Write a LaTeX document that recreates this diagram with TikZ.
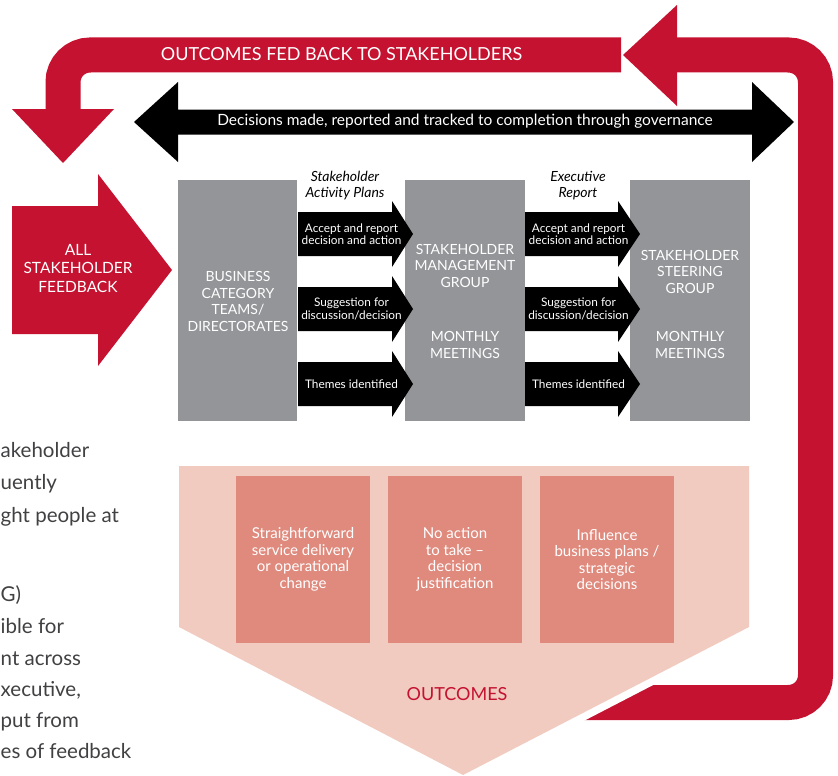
\documentclass[tikz,border=0pt]{standalone}
\usepackage{fontspec}
\setmainfont{Lato}
\definecolor{fbred}{RGB}{196,18,48}
\definecolor{boxgrey}{RGB}{147,149,152}
\definecolor{outpink}{RGB}{241,203,192}
\definecolor{cellpink}{RGB}{223,138,125}
\definecolor{bodygrey}{RGB}{65,64,66}
% black arrow between two grey boxes: name, shaft start, head base, tip, centre y, label
\newcommand{\flowarrow}[6]{%
  \fill[black] (#2,#5-22) -- (#3,#5-22) -- (#3,#5-33) -- (#4,#5)
    -- (#3,#5+33) -- (#3,#5+22) -- (#2,#5+22) -- cycle;
  \node[arrowtext] (#1) at ({(#2+#4)/2-4},#5) {#6};}
\begin{document}
\begin{tikzpicture}[x=1pt,y=-1pt,
  loopband/.style={draw=fbred, line width=35pt, rounded corners=27pt},
  bandtext/.style={text=white, font=\fontsize{18}{21}\selectfont},
  feedtext/.style={text=white, align=center, font=\fontsize{15.5}{18.5}\selectfont},
  decisiontext/.style={text=white, font=\fontsize{15.5}{18}\selectfont},
  greybox/.style={fill=boxgrey, draw=none, inner sep=0pt},
  boxtext/.style={text=white, align=center, font=\fontsize{14}{16.5}\selectfont},
  arrowtext/.style={text=white, align=center, inner sep=0pt, font=\fontsize{11.8}{12.5}\selectfont},
  italiclabel/.style={text=black, align=center, font=\fontsize{14}{16}\selectfont\itshape},
  cell/.style={fill=cellpink, draw=none, minimum width=134pt, minimum height=167pt, inner sep=0pt},
  celltext/.style={text=white, align=center, font=\fontsize{15}{16.5}\selectfont},
  bodytext/.style={text=bodygrey, anchor=base west, inner sep=0pt, font=\fontsize{20.5}{24}\selectfont}]
\clip (0,0) rectangle (838,776);

% feedback loop: outcomes back round to the stakeholders
\draw[loopband] (560,702.5) -- (815.5,702.5) -- (815.5,55) -- (676,55);
\fill[fbred] (623,55) -- (677,5) -- (677,106) -- cycle;
\draw[loopband] (621,55) -- (63,55) -- (63,111);
\fill[fbred] (12,109) -- (114,109) -- (63,163) -- cycle;
\node[bandtext] (fedback) at (341.5,54.5) {OUTCOMES FED BACK TO STAKEHOLDERS};

% governance double arrow
\fill[black] (134,122) -- (178,82) -- (178,109.5) -- (752,109.5) -- (752,82)
  -- (794,122) -- (752,162) -- (752,134.5) -- (178,134.5) -- (178,162) -- cycle;
\node[decisiontext] (decisions) at (465,121.5)
  {Decisions made, reported and tracked to completion through governance};

% incoming stakeholder feedback
\fill[fbred] (12,206) -- (98,206) -- (98,174) -- (172,270) -- (98,366)
  -- (98,334) -- (12,334) -- cycle;
\node[feedtext] (feedback) at (78,268.5) {ALL\\STAKEHOLDER\\FEEDBACK};

% governance groups
\node[greybox, minimum width=119pt, minimum height=241pt] (bct) at (237.5,300.5) {};
\node[greybox, minimum width=120pt, minimum height=241pt] (smg) at (465,300.5) {};
\node[greybox, minimum width=120pt, minimum height=241pt] (ssg) at (690,300.5) {};
\node[boxtext] (bctname) at (238,301.5) {BUSINESS\\CATEGORY\\TEAMS/\\DIRECTORATES};
\node[boxtext] (smgname) at (465,265.5) {STAKEHOLDER\\MANAGEMENT\\GROUP};
\node[boxtext] (smgmeet) at (465,345) {MONTHLY\\MEETINGS};
\node[boxtext] (ssgname) at (690,271.5) {STAKEHOLDER\\STEERING\\GROUP};
\node[boxtext] (ssgmeet) at (690,345) {MONTHLY\\MEETINGS};

% reporting routes between the groups
\node[italiclabel] (plans) at (345,186) {Stakeholder\\Activity Plans};
\node[italiclabel] (report) at (578,186) {Executive\\Report};
\flowarrow{la}{298}{392}{413}{234}{Accept and report\\decision and action}
\flowarrow{lb}{298}{392}{413}{309}{Suggestion for\\discussion/decision}
\flowarrow{lc}{298}{392}{413}{384}{Themes identified}
\flowarrow{ra}{525}{618}{640}{234}{Accept and report\\decision and action}
\flowarrow{rb}{525}{618}{640}{309}{Suggestion for\\discussion/decision}
\flowarrow{rc}{525}{618}{640}{384}{Themes identified}

% outcomes panel
\draw[white, line width=15pt, line join=miter]
  (179,466) -- (749,466) -- (749,627) -- (463,775) -- (179,627) -- cycle;
\fill[outpink] (179,466) -- (749,466) -- (749,627) -- (463,775) -- (179,627) -- cycle;
\node[cell] (oa) at (303,559.5) {};
\node[cell] (ob) at (455,559.5) {};
\node[cell] (oc) at (607,559.5) {};
\node[celltext] at (oa.center) {Straightforward\\service delivery\\or operational\\change};
\node[celltext] at (ob.center) {No action\\to take --\\decision\\justification};
\node[celltext] at (oc.center) {Influence\\business plans /\\strategic\\decisions};
\node[text=fbred, font=\fontsize{18}{20}\selectfont] (outcomes) at (457,694.5) {OUTCOMES};

% running text of the page beside the figure
\node[bodytext] (p1) at (0.5,457) {akeholder};
\node[bodytext] (p2) at (0.5,489.5) {uently};
\node[bodytext] (p3) at (0.5,522) {ght people at};
\node[bodytext] (p4) at (0.5,601) {G)};
\node[bodytext] (p5) at (0.5,633) {ible for};
\node[bodytext] (p6) at (0.5,665) {nt across};
\node[bodytext] (p7) at (0.5,696) {xecutive,};
\node[bodytext] (p8) at (0.5,727) {put from};
\node[bodytext] (p9) at (0.5,758) {es of feedback};
\end{tikzpicture}
\end{document}
